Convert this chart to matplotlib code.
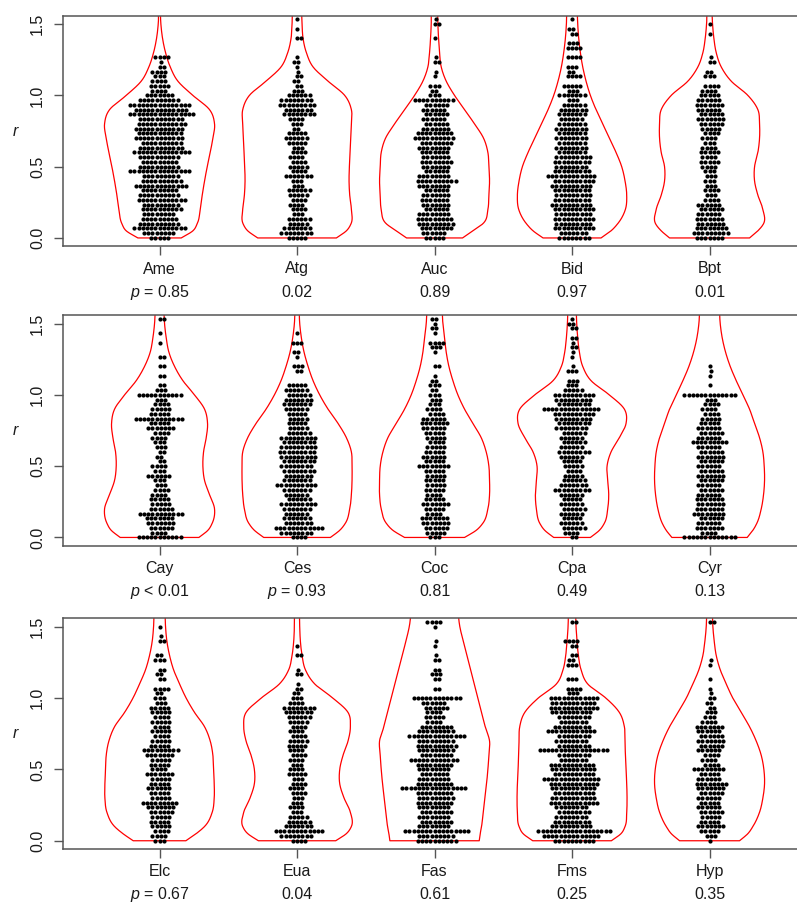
import numpy as np
import matplotlib.pyplot as plt

plt.rcParams['font.family'] = ['Liberation Sans', 'DejaVu Sans']
plt.rcParams['mathtext.fontset'] = 'custom'
plt.rcParams['mathtext.it'] = 'Liberation Sans:italic'
plt.rcParams['mathtext.rm'] = 'Liberation Sans'

# number of r values in each swarm row, rows every 1/30 starting at r = 0
ROW_STEP = 1 / 30
AME = [5, 8, 13, 10, 9, 8, 10, 9, 12, 10, 9, 13, 10, 9, 15, 10, 9, 10, 14, 11,
       10, 12, 11, 12, 12, 11, 16, 13, 15, 10, 7, 4, 5, 4, 3, 4, 2, 1, 4]
ATG = [5, 8, 7, 5, 6, 3, 4, 4, 4, 5, 6, 3, 3, 7, 4, 5, 4, 4, 4, 3,
       5, 6, 5, 2, 3, 4, 8, 7, 9, 8, 6, 3, 2, 2, 2, 1, 1, 2, 1, 0,
       0, 0, 2, 0, 1, 0, 1]
AUC = [5, 6, 8, 9, 9, 8, 6, 7, 7, 7, 6, 8, 10, 8, 6, 7, 8, 7, 7, 8,
       8, 10, 9, 7, 6, 6, 6, 6, 6, 10, 3, 2, 3, 0, 1, 1, 0, 2, 1, 0,
       0, 0, 1, 0, 0, 2, 1]
BID = [8, 7, 10, 9, 10, 9, 10, 10, 9, 9, 9, 10, 10, 12, 9, 8, 9, 9, 7, 8,
       7, 8, 7, 8, 7, 6, 7, 7, 6, 3, 7, 3, 5, 0, 4, 2, 3, 0, 4, 0,
       4, 3, 0, 2, 2, 0, 1]
BPT = [7, 9, 8, 7, 7, 6, 6, 6, 4, 3, 4, 3, 3, 3, 3, 4, 5, 4, 5, 4,
       3, 4, 4, 5, 6, 7, 6, 6, 7, 6, 5, 4, 4, 0, 3, 2, 0, 2, 1, 0,
       0, 0, 0, 1, 0, 1]
CAY = [11, 4, 6, 7, 7, 11, 6, 5, 5, 4, 4, 3, 3, 6, 3, 4, 2, 2, 2, 3,
       3, 4, 4, 7, 5, 12, 5, 5, 4, 3, 11, 3, 2, 0, 2, 0, 2, 0, 2, 0,
       0, 1, 0, 1, 0, 0, 2]
CES = [4, 8, 12, 7, 7, 6, 7, 9, 6, 6, 7, 10, 7, 7, 8, 8, 8, 9, 9, 9,
       8, 9, 6, 5, 5, 5, 5, 6, 7, 7, 6, 6, 5, 0, 0, 2, 3, 0, 1, 2,
       0, 3, 0, 1]
COC = [3, 5, 6, 7, 7, 4, 5, 7, 5, 4, 5, 5, 5, 5, 5, 8, 5, 6, 5, 5,
       4, 5, 5, 6, 7, 6, 4, 4, 3, 3, 3, 2, 3, 2, 1, 0, 2, 0, 0, 1,
       3, 4, 0, 1, 2, 1, 2]
CPA = [2, 4, 6, 6, 5, 6, 6, 6, 5, 6, 9, 7, 6, 5, 4, 5, 5, 6, 8, 6,
       6, 6, 6, 8, 8, 9, 10, 14, 8, 9, 10, 5, 3, 3, 0, 3, 1, 0, 1, 1,
       2, 1, 2, 0, 2, 2, 1]
CYR = [13, 4, 7, 6, 6, 8, 7, 7, 7, 6, 6, 6, 6, 7, 6, 6, 6, 7, 6, 6,
       9, 6, 6, 6, 5, 5, 4, 4, 4, 3, 13, 0, 1, 0, 1, 1, 1]
ELC = [3, 4, 4, 5, 5, 5, 6, 7, 9, 5, 5, 6, 5, 5, 7, 4, 5, 5, 7, 9,
       5, 5, 4, 5, 4, 5, 4, 5, 5, 3, 3, 2, 4, 0, 2, 2, 2, 0, 3, 2,
       0, 0, 2, 1, 0, 1]
EUA = [4, 8, 12, 7, 6, 5, 3, 4, 3, 3, 4, 4, 4, 3, 5, 4, 3, 4, 4, 4,
       5, 5, 4, 4, 4, 5, 6, 7, 8, 4, 3, 2, 2, 1, 0, 2, 1, 0, 0, 2,
       0, 1]
FAS = [10, 9, 16, 8, 8, 8, 8, 8, 9, 9, 9, 16, 9, 8, 7, 8, 9, 12, 8, 9,
       10, 9, 14, 9, 8, 4, 5, 4, 6, 6, 12, 0, 2, 0, 2, 3, 2, 0, 2, 1,
       0, 1, 1, 0, 0, 1, 4]
FMS = [10, 14, 18, 10, 9, 8, 8, 8, 12, 11, 10, 11, 12, 14, 10, 11, 11, 7, 8, 17,
       8, 8, 8, 12, 9, 7, 8, 10, 12, 11, 12, 3, 4, 0, 3, 0, 0, 3, 2, 2,
       0, 2, 4, 0, 0, 0, 2]
HYP = [1, 3, 5, 7, 5, 5, 6, 6, 5, 6, 6, 7, 8, 6, 5, 8, 4, 4, 4, 6,
       6, 7, 6, 6, 7, 4, 3, 3, 2, 2, 2, 1, 1, 0, 1, 0, 0, 1, 1, 0,
       0, 0, 0, 0, 0, 0, 2]

# violin half widths read at these r levels (165 = widest violin)
V_KNOTS = [0, 0.05, 0.1, 0.2, 0.3, 0.4, 0.5, 0.6, 0.7, 0.8, 0.9, 1.0, 1.1, 1.2, 1.3, 1.4, 1.5, 1.7]
AME_V = [65, 100, 113, 122, 128, 135, 143, 152, 160, 165, 150, 100, 55, 32, 18, 9, 4, 3]
ATG_V = [118, 148, 162, 163, 158, 156, 157, 159, 161, 163, 163, 143, 93, 48, 28, 18, 15, 13]
AUC_V = [84, 115, 145, 160, 163, 165, 163, 160, 147, 120, 90, 60, 35, 20, 15, 12, 10, 10]
BID_V = [87, 117, 137, 160, 164, 159, 149, 132, 112, 92, 72, 55, 42, 32, 25, 20, 17, 15]
BPT_V = [120, 145, 162, 160, 145, 135, 135, 145, 150, 150, 145, 115, 65, 35, 20, 13, 9, 7]
CAY_V = [118, 145, 158, 165, 150, 135, 130, 132, 140, 144, 135, 105, 70, 45, 28, 20, 15, 13]
CES_V = [100, 128, 145, 158, 163, 165, 165, 163, 148, 123, 93, 68, 48, 33, 21, 13, 8, 7]
COC_V = [90, 125, 145, 160, 165, 165, 163, 155, 140, 115, 90, 70, 55, 43, 35, 30, 25, 23]
CPA_V = [55, 82, 97, 107, 110, 107, 105, 117, 142, 162, 157, 112, 57, 32, 22, 17, 14, 12]
CYR_V = [113, 130, 142, 155, 162, 165, 164, 160, 150, 135, 120, 100, 80, 62, 48, 38, 32, 30]
ELC_V = [79, 110, 135, 158, 164, 164, 162, 160, 152, 135, 105, 80, 60, 42, 30, 22, 18, 17]
EUA_V = [116, 148, 163, 160, 141, 128, 128, 138, 153, 160, 153, 108, 53, 25, 15, 10, 8, 7]
FAS_V = [134, 137, 141, 146, 151, 156, 160, 163, 165, 152, 141, 130, 119, 108, 97, 86, 76, 68]
FMS_V = [118, 147, 159, 164, 165, 164, 162, 160, 159, 157, 142, 102, 47, 27, 19, 15, 12, 11]
HYP_V = [90, 115, 130, 150, 160, 165, 163, 155, 140, 120, 95, 70, 50, 32, 20, 14, 10, 9]

NAMES = [["Ame", "Atg", "Auc", "Bid", "Bpt"],
         ["Cay", "Ces", "Coc", "Cpa", "Cyr"],
         ["Elc", "Eua", "Fas", "Fms", "Hyp"]]
P_TEXT = [["$p$ = 0.85", "0.02", "0.89", "0.97", "0.01"],
          ["$p$ < 0.01", "$p$ = 0.93", "0.81", "0.49", "0.13"],
          ["$p$ = 0.67", "0.04", "0.61", "0.25", "0.35"]]
POINTS = [[AME, ATG, AUC, BID, BPT], [CAY, CES, COC, CPA, CYR], [ELC, EUA, FAS, FMS, HYP]]
VIOLINS = [[AME_V, ATG_V, AUC_V, BID_V, BPT_V], [CAY_V, CES_V, COC_V, CPA_V, CYR_V],
           [ELC_V, EUA_V, FAS_V, FMS_V, HYP_V]]

XPX = 137.5   # pixels per x unit
YPX = 142.5   # pixels per r unit
DOT = 4.2     # swarm spacing in pixels
YSQ = 0.85    # vertical squeeze used only for the swarm collision test


def swarm(vals):
    y = np.asarray(vals) * YPX * YSQ
    xs = np.zeros(len(y))
    px, py = [], []
    for i in np.argsort(y, kind="stable"):
        if px:
            ax_, ay_ = np.array(px), np.array(py)
            m = np.abs(ay_ - y[i]) < DOT
            if m.any():
                xj = ax_[m]
                half = np.sqrt(DOT ** 2 - (ay_[m] - y[i]) ** 2)
                cand = np.concatenate([[0.0], xj - half, xj + half])
                cand = cand[np.argsort(np.abs(cand) + 1e-6 * (cand < 0))]
                for c in cand:
                    if np.all(np.abs(c - xj) >= half - 1e-6):
                        xs[i] = c
                        break
        px.append(xs[i])
        py.append(y[i])
    return xs / XPX


def violin_outline(widths):
    k = np.array(V_KNOTS, float)
    w = np.array(widths, float) * 0.4 / 165
    m = np.gradient(w, k)
    yy = np.linspace(0, k[-1], 500)
    idx = np.clip(np.searchsorted(k, yy, side="right") - 1, 0, len(k) - 2)
    h = k[idx + 1] - k[idx]
    t = (yy - k[idx]) / h
    ww = ((2 * t**3 - 3 * t**2 + 1) * w[idx] + (t**3 - 2 * t**2 + t) * h * m[idx]
          + (-2 * t**3 + 3 * t**2) * w[idx + 1] + (t**3 - t**2) * h * m[idx + 1])
    return ww, yy


fig = plt.figure(figsize=(7.97, 9.05), dpi=100)
bottoms = [246.5, 546.0, 849.3]
for row in range(3):
    ax = fig.add_axes([63.3 / 797, (905 - bottoms[row]) / 905, 742.5 / 797, 230.9 / 905])
    for j in range(5):
        c = j + 1
        ww, yy = violin_outline(VIOLINS[row][j])
        ax.plot(np.concatenate([c - ww[::-1], c + ww]), np.concatenate([yy[::-1], yy]),
                color="red", lw=0.9, zorder=2)
        counts = POINTS[row][j]
        vals = np.repeat(np.arange(len(counts)) * ROW_STEP, counts)
        ax.plot(c + swarm(vals), vals, "o", ms=3.0, mew=0, color="black", zorder=3)
        ax.annotate(NAMES[row][j], xy=(c, 0), xycoords=("data", "axes fraction"),
                    xytext=(0, -16.2), textcoords="offset points",
                    ha="center", va="center", fontsize=11.5, color="#1a1a1a")
        ax.annotate(P_TEXT[row][j], xy=(c, 0), xycoords=("data", "axes fraction"),
                    xytext=(0, -32.8), textcoords="offset points",
                    ha="center", va="center", fontsize=11.5, color="#1a1a1a")
    ax.set_xlim(0.3, 5.7)
    ax.set_ylim(-0.06, 1.56)
    ax.set_xticks([1, 2, 3, 4, 5])
    ax.set_xticklabels([])
    ax.set_yticks([0, 0.5, 1.0, 1.5])
    ax.set_yticklabels(["0.0", "0.5", "1.0", "1.5"], rotation=90, va="center")
    ax.tick_params(axis="both", length=6.5, width=1, color="#555555",
                   labelcolor="#1a1a1a", labelsize=11.5, pad=6.5)
    for s in ax.spines.values():
        s.set_color("#555555")
        s.set_linewidth(1.1)
    ax.text(-0.065, 0.5, "r", style="italic", fontsize=11.5, color="#1a1a1a",
            transform=ax.transAxes, ha="center", va="center")

fig.savefig("out.png", dpi=100)
